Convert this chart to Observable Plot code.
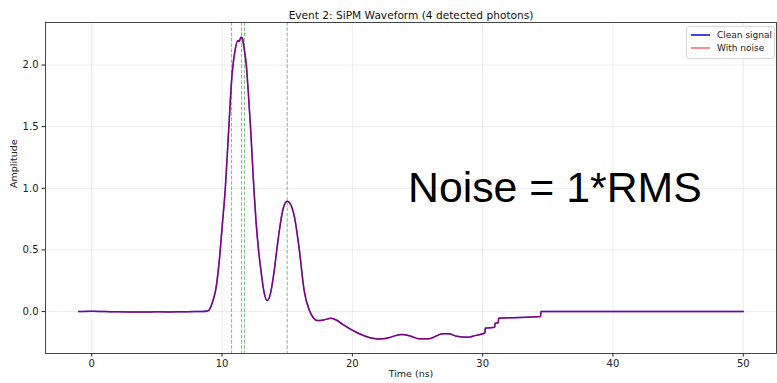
<!DOCTYPE html>
<html><head><meta charset="utf-8">
<script src="https://cdn.jsdelivr.net/npm/d3@7"></script>
<script src="https://cdn.jsdelivr.net/npm/@observablehq/plot@0.6"></script>
<style>
body{margin:0;background:#fff;}
#wrap{position:relative;width:777px;height:383px;font-family:"DejaVu Sans",sans-serif;}
#legend{position:absolute;left:686px;top:26px;width:87px;height:31px;border:1px solid #d8d8d8;border-radius:3px;background:rgba(255,255,255,0.85);font-size:9px;color:#222;}
.row{position:absolute;left:4px;display:flex;align-items:center;height:12px;white-space:nowrap;}
.row svg{flex:0 0 19px;margin-right:7px;}
#note{position:absolute;left:408px;top:163px;font-family:"Liberation Sans",Arial,sans-serif;font-size:42.8px;color:#000;white-space:nowrap;}
</style></head><body><div id="wrap"></div>
<script>
const title = "Event 2: SiPM Waveform (4 detected photons)";
const xLabel = "Time (ns)";
const yLabel = "Amplitude";
const noteText = "Noise = 1*RMS";
const seriesNames = ["Clean signal", "With noise"];
const seriesColors = ["blue", "red"];

const timeNs = [-1, 0, 1, 2, 3, 4, 5, 6, 7, 8, 8.5, 8.9,
  9.1, 9.3, 9.5, 9.65, 9.82, 10.0, 10.25, 10.5, 10.75, 11.0, 11.2, 11.3, 11.45, 11.55, 11.7, 11.86, 12.0, 12.2, 12.44,
  12.6, 12.8, 13.0, 13.2, 13.45, 13.7, 14.0, 14.2, 14.4, 14.7, 15.0, 15.2, 15.55, 15.93, 16.3, 16.7, 17.0, 17.3, 17.8,
  18.35, 18.8, 19.2, 20.3, 21.0, 22.0, 22.8, 23.3, 23.8, 24.5, 25.1, 25.9, 26.5, 26.9, 27.4, 28.0, 28.9, 29.4,
  30.18, 30.2, 30.93, 30.95, 31.2, 31.22, 34.45, 34.47, 40, 45, 50];
const amplitude = [0.0, 0.002, 0.0, -0.002, -0.003, -0.003, -0.002, -0.003, -0.001, 0.0, 0.0, 0.004,
  0.03, 0.09, 0.17, 0.28, 0.45, 0.68, 1.0, 1.46, 1.9, 2.12, 2.2, 2.19, 2.225, 2.22, 2.13, 2.0, 1.8, 1.47, 1.0,
  0.74, 0.5, 0.32, 0.17, 0.09, 0.14, 0.33, 0.5, 0.66, 0.84, 0.895, 0.88, 0.77, 0.5, 0.17, 0.01, -0.05, -0.073, -0.068,
  -0.054, -0.07, -0.1, -0.168, -0.2, -0.222, -0.212, -0.195, -0.185, -0.2, -0.22, -0.22, -0.195, -0.18, -0.18, -0.2, -0.209, -0.195,
  -0.172, -0.133, -0.128, -0.094, -0.09, -0.055, -0.04, 0.0, 0.0, 0.0, 0.0];
const photonTimes = [10.73, 11.5, 11.73, 15.0];
const xTicks = [0, 10, 20, 30, 40, 50];
const yTicks = [0, 0.5, 1.0, 1.5, 2.0];

const data = timeNs.map((t, i) => ({t, a: amplitude[i]}));

const chart = Plot.plot({
  width: 777, height: 383,
  marginLeft: 45, marginRight: 1, marginTop: 22, marginBottom: 30,
  style: {fontFamily: "DejaVu Sans, sans-serif", fontSize: "10px", color: "#222", background: "white"},
  x: {domain: [-3.55, 52.55]},
  y: {domain: [-0.34, 2.345]},
  marks: [
    Plot.gridX(xTicks, {stroke: "#b0b0b0", strokeOpacity: 0.3, strokeWidth: 0.8}),
    Plot.gridY(yTicks, {stroke: "#b0b0b0", strokeOpacity: 0.3, strokeWidth: 0.8}),
    Plot.ruleX(photonTimes, {stroke: "green", strokeOpacity: 0.5, strokeWidth: 1, strokeDasharray: "3.7,1.6"}),
    Plot.line(data, {x: "t", y: "a", stroke: seriesColors[0], strokeWidth: 1.5, curve: "monotone-x"}),
    Plot.line(data, {x: "t", y: "a", stroke: seriesColors[1], strokeOpacity: 0.5, strokeWidth: 1.5, curve: "monotone-x"}),
    Plot.axisX(xTicks, {tickSize: 3.5, tickPadding: 3, label: null, fontSize: 10}),
    Plot.axisY(yTicks, {tickSize: 3.5, tickPadding: 3.5, label: null, tickFormat: d3.format(".1f"), fontSize: 10}),
    Plot.frame({stroke: "#333", strokeWidth: 0.9}),
    Plot.text([title], {frameAnchor: "top", dy: -11, fontSize: 10.6, fill: "#111"}),
    Plot.text([xLabel], {frameAnchor: "bottom", dy: 23, fontSize: 9.5, fill: "#222"}),
    Plot.text([yLabel], {frameAnchor: "left", dx: -32, rotate: -90, fontSize: 9.5, fill: "#222"})
  ]
});

const wrap = document.getElementById("wrap");
wrap.appendChild(chart);

const legend = document.createElement("div");
legend.id = "legend";
const legendStroke = [{c: seriesColors[0], w: 1.5, o: 1}, {c: seriesColors[1], w: 1.2, o: 0.75}];
seriesNames.forEach((name, i) => {
  const row = document.createElement("div");
  row.className = "row";
  row.style.top = (2 + i * 12.5) + "px";
  const s = legendStroke[i];
  row.innerHTML = `<svg width="19" height="6"><line x1="0" x2="19" y1="3" y2="3" stroke="${s.c}" stroke-width="${s.w}" stroke-opacity="${s.o}"/></svg>`;
  const tx = document.createElement("span");
  tx.textContent = name;
  row.appendChild(tx);
  legend.appendChild(row);
});
wrap.appendChild(legend);

const note = document.createElement("div");
note.id = "note";
note.textContent = noteText;
wrap.appendChild(note);
</script>
</body></html>
